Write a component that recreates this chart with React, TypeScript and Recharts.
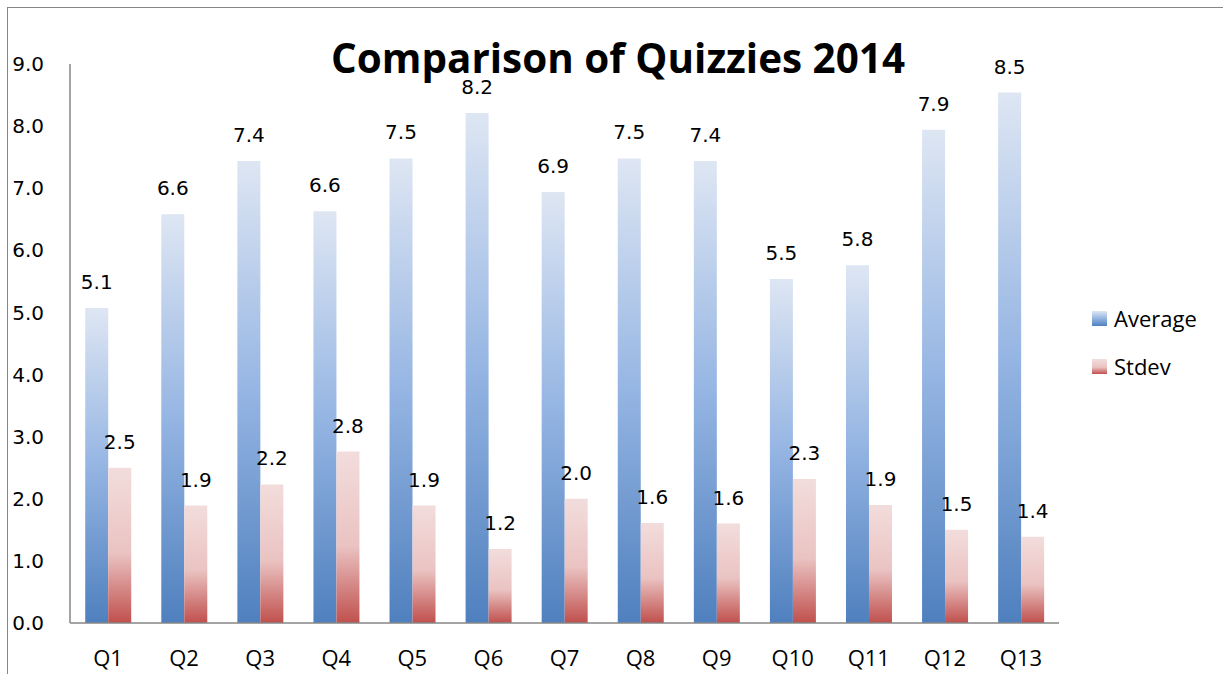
import React from 'react';
import { BarChart, Bar, XAxis, YAxis, Legend, LabelList, Customized } from 'recharts';

const categories = ['Q1', 'Q2', 'Q3', 'Q4', 'Q5', 'Q6', 'Q7', 'Q8', 'Q9', 'Q10', 'Q11', 'Q12', 'Q13'];
const averageValues = [5.07, 6.58, 7.44, 6.63, 7.48, 8.21, 6.94, 7.48, 7.44, 5.54, 5.76, 7.94, 8.54];
const stdevValues = [2.5, 1.89, 2.23, 2.76, 1.89, 1.19, 2.0, 1.61, 1.6, 2.32, 1.9, 1.5, 1.39];
const yTicks = [0, 1, 2, 3, 4, 5, 6, 7, 8, 9];
const seriesNames = ['Average', 'Stdev'];
const titleText = 'Comparison of Quizzies 2014';

const data = categories.map((name, i) => ({
  name,
  Average: averageValues[i],
  Stdev: stdevValues[i],
}));

const AXIS = '#868686';
const LABEL_FONT = '"DejaVu Sans", sans-serif';
const TEXT_FONT = '"Open Sans", sans-serif';

const AVG_STOPS: [string, string][] = [['0%', '#DEE6F3'], ['50%', '#95B5E3'], ['100%', '#4F80BE']];
const STD_STOPS: [string, string][] = [['0%', '#F2DDDC'], ['55%', '#EAC3C2'], ['100%', '#C0504D']];

const fmt = (v: any) => Number(v).toFixed(1);

const Grad = ({ id, stops }: { id: string; stops: [string, string][] }) => (
  <linearGradient id={id} x1="0" y1="0" x2="0" y2="1">
    {stops.map(([o, c]) => (
      <stop key={o} offset={o} stopColor={c} />
    ))}
  </linearGradient>
);

const LegendContent = () => (
  <div style={{ paddingLeft: 33 }}>
    {seriesNames.map((n, i) => (
      <div key={n} style={{ display: 'flex', alignItems: 'center', height: 48 }}>
        <svg width={15} height={15} style={{ display: 'block', flex: 'none' }}>
          <defs>
            <Grad id={`legGrad${i}`} stops={i === 0 ? AVG_STOPS : STD_STOPS} />
          </defs>
          <rect x={0} y={0} width={15} height={15} fill={`url(#legGrad${i})`} />
        </svg>
        <span style={{ marginLeft: 7, fontFamily: TEXT_FONT, fontSize: 22, color: '#000', lineHeight: '48px' }}>{n}</span>
      </div>
    ))}
  </div>
);

export default function App() {
  return (
    <div
      style={{
        position: 'fixed',
        top: 7,
        left: 7,
        width: 1216,
        height: 667,
        boxSizing: 'border-box',
        borderTop: `1px solid ${AXIS}`,
        borderLeft: `1px solid ${AXIS}`,
        background: '#fff',
      }}
    >
      <BarChart
        width={1215}
        height={666}
        data={data}
        margin={{ top: 56, right: 44, bottom: 0, left: 0 }}
        barCategoryGap="20%"
        barGap={0}
      >
        <defs>
          <Grad id="gradAvg" stops={AVG_STOPS} />
          <Grad id="gradStd" stops={STD_STOPS} />
        </defs>
        <Customized
          component={() => (
            <text
              x={610}
              y={65}
              textAnchor="middle"
              fontFamily={TEXT_FONT}
              fontWeight={700}
              fontSize={42}
              textLength={574}
              lengthAdjust="spacingAndGlyphs"
              fill="#000"
            >
              {titleText}
            </text>
          )}
        />
        <XAxis
          dataKey="name"
          height={51}
          tickLine={false}
          tickSize={0}
          tickMargin={27}
          axisLine={{ stroke: AXIS, strokeWidth: 1.5 }}
          tick={{ fill: '#000', fontFamily: TEXT_FONT, fontSize: 22 }}
          interval={0}
        />
        <YAxis
          width={62}
          domain={[0, 9]}
          ticks={yTicks}
          tickFormatter={fmt}
          tickLine={false}
          tickSize={0}
          tickMargin={26}
          axisLine={{ stroke: AXIS, strokeWidth: 1.5 }}
          tick={{ fill: '#000', fontFamily: LABEL_FONT, fontSize: 20, textAnchor: 'end' }}
          allowDataOverflow
        />
        <Legend
          layout="vertical"
          align="right"
          verticalAlign="middle"
          content={<LegendContent />}
          wrapperStyle={{ width: 120, top: 286, height: 96 }}
        />
        <Bar dataKey="Average" fill="url(#gradAvg)" isAnimationActive={false}>
          <LabelList
            dataKey="Average"
            position="top"
            offset={19}
            formatter={fmt}
            fill="#000"
            fontFamily={LABEL_FONT}
            fontSize={20}
          />
        </Bar>
        <Bar dataKey="Stdev" fill="url(#gradStd)" isAnimationActive={false}>
          <LabelList
            dataKey="Stdev"
            position="top"
            offset={19}
            formatter={fmt}
            fill="#000"
            fontFamily={LABEL_FONT}
            fontSize={20}
          />
        </Bar>
      </BarChart>
    </div>
  );
}
